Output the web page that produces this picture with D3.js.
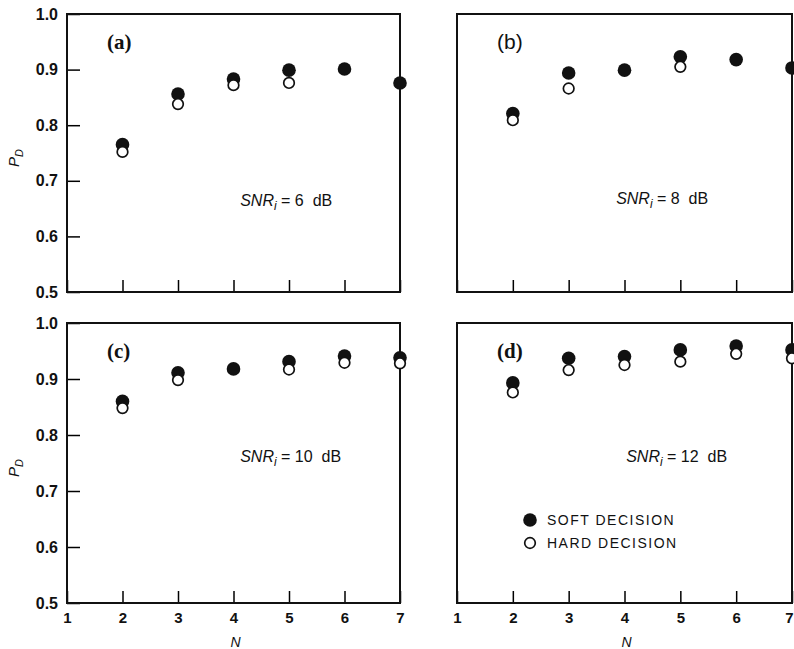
<!DOCTYPE html>
<html>
<head>
<meta charset="utf-8">
<script src="https://cdn.jsdelivr.net/npm/d3@7"></script>
<style>
  body { margin: 0; background: #fff; }
  svg { font-family: "Liberation Sans", Arial, sans-serif; }
</style>
</head>
<body>
<svg width="794" height="649"></svg>
<script>
// N values on the x axis
var nValues = [2, 3, 4, 5, 6, 7];
var xTicks = [1, 2, 3, 4, 5, 6, 7];
var yTicks = [0.5, 0.6, 0.7, 0.8, 0.9, 1.0];

// P_D; hard == soft where the two marks coincide
var softA = [0.765, 0.856, 0.883, 0.899, 0.901, 0.876];
var hardA = [0.752, 0.838, 0.872, 0.876, 0.901, 0.876];
var softB = [0.821, 0.894, 0.899, 0.923, 0.918, 0.903];
var hardB = [0.809, 0.866, 0.899, 0.905, 0.918, 0.903];
var softC = [0.860, 0.911, 0.918, 0.931, 0.941, 0.938];
var hardC = [0.848, 0.898, 0.918, 0.917, 0.929, 0.928];
var softD = [0.893, 0.937, 0.940, 0.952, 0.959, 0.952];
var hardD = [0.876, 0.916, 0.925, 0.931, 0.945, 0.937];

var panelLabels = ["(a)", "(b)", "(c)", "(d)"];
var snrValues = ["6", "8", "10", "12"];
var legendItems = ["SOFT DECISION", "HARD DECISION"];

var svg = d3.select("svg");

// panel boxes, annotation anchor in data units (N, P_D)
var panels = [
  {x0: 67,  x1: 400, y0: 14,  y1: 292, soft: softA, hard: hardA, left: true,  bottom: false, serif: true,  snrAt: [4.12, 0.655]},
  {x0: 457, x1: 792, y0: 14,  y1: 292, soft: softB, hard: hardB, left: false, bottom: false, serif: false, snrAt: [3.85, 0.658]},
  {x0: 67,  x1: 400, y0: 323, y1: 603, soft: softC, hard: hardC, left: true,  bottom: true,  serif: true,  snrAt: [4.12, 0.752]},
  {x0: 457, x1: 792, y0: 323, y1: 603, soft: softD, hard: hardD, left: false, bottom: true,  serif: true,  snrAt: [4.03, 0.752]}
];

panels.forEach(function(p, i) {
  var x = d3.scaleLinear().domain([1, 7]).range([p.x0, p.x1]);
  var y = d3.scaleLinear().domain([0.5, 1.0]).range([p.y1, p.y0]);
  var g = svg.append("g");

  // x ticks point inward
  var xAxis = d3.axisBottom(x).tickValues(xTicks).tickSize(-12).tickPadding(9)
    .tickFormat(p.bottom ? d3.format("d") : "");
  var gx = g.append("g").attr("transform", "translate(0," + p.y1 + ")").call(xAxis);
  gx.select(".domain").remove();
  gx.selectAll("line").attr("stroke-width", 1.5);
  gx.selectAll("text").attr("font-size", 15).attr("font-weight", "bold").attr("fill", "#111");
  // keep the last label of the right panel inside the page
  if (p.x1 > 780) gx.selectAll("text").filter(function(d) { return d === 7; }).attr("dx", -3);

  if (p.left) {
    var yAxis = d3.axisLeft(y).tickValues(yTicks).tickSize(-13).tickPadding(9).tickFormat(d3.format(".1f"));
    var gy = g.append("g").attr("transform", "translate(" + p.x0 + ",0)").call(yAxis);
    gy.select(".domain").remove();
    gy.selectAll("line").attr("stroke-width", 1.5);
    gy.selectAll("text").attr("font-size", 16).attr("font-weight", "bold").attr("fill", "#111");

    var yl = g.append("text")
      .attr("transform", "translate(19," + ((p.y0 + p.y1) / 2 + 5) + ") rotate(-90)")
      .attr("text-anchor", "middle").attr("font-size", 15).attr("fill", "#111");
    yl.append("tspan").attr("font-style", "italic").text("P");
    yl.append("tspan").attr("font-style", "italic").attr("font-size", 11).attr("dy", 4).text("D");
  }

  if (p.bottom) {
    g.append("text").attr("x", x(4) + 2).attr("y", p.y1 + 44)
      .attr("text-anchor", "middle").attr("font-size", 14).attr("font-style", "italic").attr("fill", "#111").text("N");
  }

  // frame
  g.append("rect").attr("x", p.x0).attr("y", p.y0)
    .attr("width", p.x1 - p.x0).attr("height", p.y1 - p.y0)
    .attr("fill", "none").attr("stroke", "#111").attr("stroke-width", 2);

  // panel label
  g.append("text").attr("x", p.x0 + 40).attr("y", p.y0 + 35)
    .attr("font-family", p.serif ? "'Liberation Serif', serif" : "'Liberation Sans', sans-serif")
    .attr("font-weight", p.serif ? "bold" : "normal").attr("font-size", 21).attr("fill", "#111")
    .text(panelLabels[i]);

  // SNR annotation
  var st = g.append("text").attr("x", x(p.snrAt[0])).attr("y", y(p.snrAt[1]))
    .attr("font-size", 16).attr("fill", "#111");
  st.append("tspan").attr("font-style", "italic").text("SNR");
  st.append("tspan").attr("font-style", "italic").attr("font-size", 12).attr("dy", 4).text("i");
  st.append("tspan").attr("dy", -4).text(" = " + snrValues[i] + "\u00a0\u00a0dB");

  var pts = nValues.map(function(n, k) { return {n: n, soft: p.soft[k], hard: p.hard[k]}; });

  g.selectAll("circle.soft").data(pts).enter().append("circle")
    .attr("class", "soft")
    .attr("cx", function(d) { return x(d.n); })
    .attr("cy", function(d) { return y(d.soft); })
    .attr("r", 6.8).attr("fill", "#111");

  // hollow marks only where they separate from the filled ones
  g.selectAll("circle.hard").data(pts.filter(function(d) { return d.hard !== d.soft; })).enter().append("circle")
    .attr("class", "hard")
    .attr("cx", function(d) { return x(d.n); })
    .attr("cy", function(d) { return y(d.hard); })
    .attr("r", 5.3).attr("fill", "#fff").attr("stroke", "#111").attr("stroke-width", 1.7);

  // legend in panel (d)
  if (i === 3) {
    legendItems.forEach(function(t, k) {
      var ly = 520 + k * 23;
      g.append("circle").attr("cx", 530).attr("cy", ly).attr("r", k === 0 ? 6.8 : 5.3)
        .attr("fill", k === 0 ? "#111" : "#fff").attr("stroke", "#111").attr("stroke-width", k === 0 ? 0 : 1.7);
      g.append("text").attr("x", 547).attr("y", ly + 5).attr("font-size", 14)
        .attr("letter-spacing", 1.5).attr("fill", "#111").text(t);
    });
  }
});
</script>
</body>
</html>
